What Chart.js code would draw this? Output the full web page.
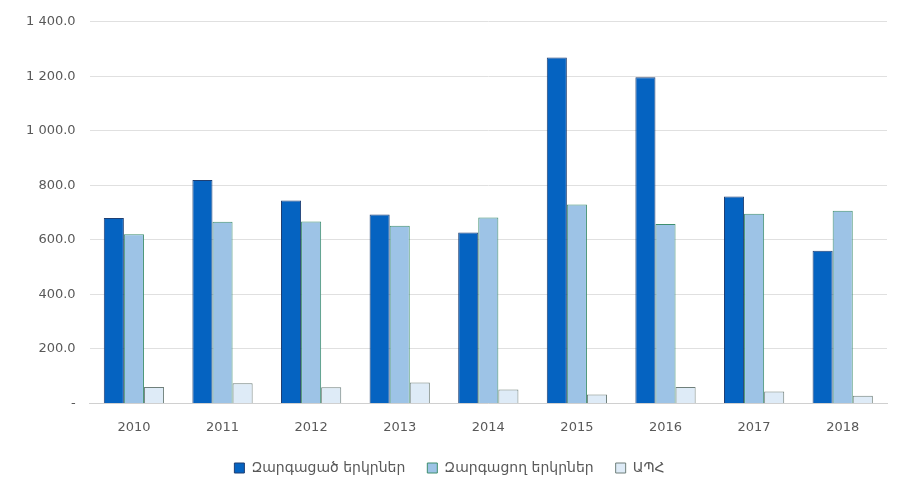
<!DOCTYPE html>
<html lang="hy">
<head>
<meta charset="UTF-8">
<title>Chart</title>
<script src="https://cdn.jsdelivr.net/npm/chart.js"></script>
<style>
  body { margin: 0; background: #fff; }
  #wrap { width: 901px; height: 492px; }
</style>
</head>
<body>
<div id="wrap"><canvas id="c" width="901" height="492"></canvas></div>
<script>
// տարիներ
const years = ['2010', '2011', '2012', '2013', '2014', '2015', '2016', '2017', '2018'];
const developed = [680, 820, 744, 693, 627, 1269, 1197, 759, 560];
const developing = [621, 666, 667, 652, 682, 730, 658, 696, 707];
const cis = [60, 74, 59, 77, 51, 33, 60, 44, 28];
const seriesNames = ['Զարգացած երկրներ', 'Զարգացող երկրներ', 'ԱՊՀ'];

function fmt(v) {
    if (v === 0) return '-';
    const s = v.toFixed(1).split('.');
    return s[0].replace(/\B(?=(\d{3})+(?!\d))/g, ' ') + '.' + s[1];
}

const font = { family: 'DejaVu Sans', size: 13 };

// legend sits closer to the axis than chart.js puts it
const legendShrink = {
    id: 'legendShrink',
    afterInit(chart) {
        const lg = chart.legend;
        const origFit = lg.fit;
        const origDraw = lg.draw;
        lg.fit = function () { origFit.call(this); this.height -= 8; };
        lg.draw = function (area) {
            const c = this.ctx;
            c.save();
            c.translate(0, -4);
            origDraw.call(this, area);
            c.restore();
        };
    }
};

const ctx = document.getElementById('c').getContext('2d');
new Chart(ctx, {
    type: 'bar',
    data: {
        labels: years,
        datasets: [
            { label: seriesNames[0], data: developed, backgroundColor: '#0563c1', borderColor: '#1f3f73', borderWidth: 1 },
            { label: seriesNames[1], data: developing, backgroundColor: '#9dc3e6', borderColor: '#3f8f6f', borderWidth: 1 },
            { label: seriesNames[2], data: cis, backgroundColor: '#deebf7', borderColor: '#6f7f7a', borderWidth: 1 }
        ]
    },
    options: {
        responsive: false,
        animation: false,
        devicePixelRatio: 1,
        layout: { padding: { top: 11, right: 14, left: 12, bottom: 11 } },
        datasets: { bar: { barPercentage: 1, categoryPercentage: 0.68 } },
        plugins: {
            legend: {
                position: 'bottom',
                labels: { boxWidth: 10, boxHeight: 10, color: '#595959', font: { family: 'DejaVu Sans', size: 14 }, padding: 22 }
            },
            tooltip: { enabled: false }
        },
        scales: {
            x: {
                grid: { display: false },
                border: { color: '#d0d0d0' },
                ticks: { color: '#595959', font: font, padding: 8 }
            },
            y: {
                min: 0, max: 1400,
                ticks: { stepSize: 200, color: '#595959', font: font, padding: 14, callback: v => fmt(v) },
                grid: { color: '#e0e0e0', drawTicks: false },
                border: { display: false }
            }
        }
    },
    plugins: [legendShrink]
});
</script>
</body>
</html>
